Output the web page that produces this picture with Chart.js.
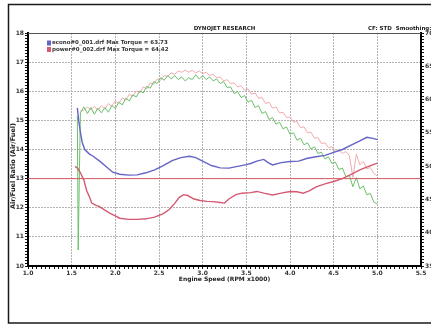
<!DOCTYPE html>
<html>
<head>
<meta charset="utf-8">
<script src="https://cdn.jsdelivr.net/npm/chart.js@4.4.1/dist/chart.umd.min.js"></script>
<style>
  html, body { margin: 0; padding: 0; background: #fff; }
  canvas { display: block; }
</style>
</head>
<body>
<canvas id="dyno" width="431" height="325"></canvas>
<script>
// Tick labels
const rpmLabels = [1.0, 1.5, 2.0, 2.5, 3.0, 3.5, 4.0, 4.5, 5.0, 5.5]
const afrLabels = [10, 11, 12, 13, 14, 15, 16, 17, 18]
const torqueLabels = [35, 40, 45, 50, 55, 60, 65, 70]

// Run names
const runNames = ['econo#0_001.drf Max Torque = 63.73', 'power#0_002.drf Max Torque = 64.42']
const targetAfr = 13

// Air/fuel ratio, run 1 (econo)
const econoAfrRpm = [1.565, 1.58, 1.60, 1.62, 1.65, 1.70, 1.75, 1.82, 1.90, 1.97, 2.05, 2.15, 2.25, 2.35, 2.45, 2.55, 2.65, 2.75, 2.85, 2.92, 3.00, 3.10, 3.20, 3.30, 3.40, 3.50, 3.55, 3.62, 3.70, 3.75, 3.80, 3.90, 4.00, 4.10, 4.20, 4.30, 4.40, 4.50, 4.60, 4.70, 4.80, 4.88, 4.95, 5.00]
const econoAfr = [15.43, 15.0, 14.6, 14.25, 14.0, 13.85, 13.76, 13.6, 13.4, 13.22, 13.15, 13.12, 13.13, 13.2, 13.3, 13.45, 13.62, 13.72, 13.77, 13.72, 13.6, 13.45, 13.37, 13.36, 13.42, 13.48, 13.52, 13.6, 13.66, 13.55, 13.47, 13.55, 13.59, 13.6, 13.7, 13.75, 13.8, 13.9, 14.0, 14.15, 14.3, 14.42, 14.38, 14.34]

// Air/fuel ratio, run 2 (power)
const powerAfrRpm = [1.54, 1.57, 1.60, 1.64, 1.67, 1.70, 1.73, 1.78, 1.82, 1.88, 1.94, 2.00, 2.05, 2.15, 2.25, 2.35, 2.45, 2.55, 2.62, 2.68, 2.73, 2.78, 2.83, 2.90, 2.97, 3.05, 3.12, 3.20, 3.25, 3.30, 3.38, 3.45, 3.55, 3.62, 3.70, 3.80, 3.90, 4.00, 4.08, 4.15, 4.22, 4.30, 4.40, 4.50, 4.60, 4.70, 4.80, 4.90, 5.00]
const powerAfr = [13.42, 13.35, 13.2, 12.95, 12.6, 12.4, 12.16, 12.08, 12.04, 11.92, 11.81, 11.72, 11.64, 11.6, 11.6, 11.62, 11.68, 11.8, 11.95, 12.15, 12.35, 12.45, 12.42, 12.3, 12.25, 12.22, 12.21, 12.18, 12.16, 12.3, 12.45, 12.5, 12.52, 12.56, 12.5, 12.44, 12.5, 12.56, 12.55, 12.5, 12.58, 12.72, 12.82, 12.9, 13.0, 13.15, 13.3, 13.42, 13.53]

// Torque (right axis)
const torqueRpm = [1.60, 1.64, 1.68, 1.72, 1.76, 1.80, 1.84, 1.88, 1.92, 1.96, 2.00, 2.04, 2.08, 2.12, 2.16, 2.20, 2.24, 2.28, 2.32, 2.36, 2.40, 2.44, 2.48, 2.52, 2.56, 2.60, 2.64, 2.68, 2.72, 2.76, 2.80, 2.84, 2.88, 2.92, 2.96, 3.00, 3.04, 3.08, 3.12, 3.16, 3.20, 3.24, 3.28, 3.32, 3.36, 3.40, 3.44, 3.48, 3.52, 3.56, 3.60, 3.64, 3.68, 3.72, 3.76, 3.80, 3.84, 3.88, 3.92, 3.96, 4.00, 4.04, 4.08, 4.12, 4.16, 4.20, 4.24, 4.28, 4.32, 4.36, 4.40, 4.44, 4.48, 4.52, 4.56, 4.60, 4.64, 4.68, 4.72, 4.76, 4.80, 4.84, 4.88, 4.92, 4.96, 5.00]
const econoSpikeRpm = [1.565, 1.575, 1.59]
const econoSpikeTq = [57.5, 37.4, 50.0]
const econoTq = [58.0, 58.9, 57.9, 58.8, 57.8, 58.7, 58.0, 58.8, 58.1, 59.1, 58.7, 59.6, 59.2, 60.2, 59.8, 60.7, 60.4, 61.3, 61.0, 62.0, 61.7, 62.7, 62.4, 63.3, 62.9, 63.6, 63.1, 63.6, 63.0, 63.4, 62.8, 63.3, 63.0, 63.73, 63.1, 63.6, 63.0, 63.4, 62.8, 63.1, 62.4, 62.7, 61.8, 61.9, 60.9, 61.2, 60.3, 60.6, 59.6, 59.9, 58.8, 59.1, 57.9, 58.2, 57.0, 57.3, 56.3, 56.6, 55.6, 55.9, 54.8, 55.0, 53.9, 54.2, 53.2, 53.5, 52.6, 52.9, 51.9, 52.1, 51.1, 51.4, 50.4, 50.6, 49.5, 49.7, 48.4, 48.6, 46.9, 48.3, 46.6, 47.0, 45.7, 45.9, 44.6, 44.3]
const powerTq = [58.3, 58.4, 58.9, 58.5, 59.0, 58.4, 59.1, 58.6, 59.4, 59.0, 59.8, 59.4, 60.3, 59.9, 60.8, 60.5, 61.3, 61.0, 61.9, 61.6, 62.5, 62.3, 63.1, 62.9, 63.6, 63.5, 64.0, 63.8, 64.3, 64.1, 64.42, 64.1, 64.4, 64.0, 64.3, 63.9, 64.1, 63.6, 63.8, 63.3, 63.4, 62.8, 63.0, 62.4, 62.5, 61.9, 62.1, 61.4, 61.6, 60.8, 61.0, 60.2, 60.3, 59.4, 59.6, 58.7, 58.9, 58.0, 58.1, 57.3, 57.4, 56.6, 56.7, 55.8, 55.9, 55.0, 55.1, 54.2, 54.3, 53.4, 53.5, 52.8, 52.9, 52.2, 52.4, 51.9, 52.2, 51.6, 48.3, 51.8, 50.2, 50.7, 49.6, 49.8, 48.9, 48.5]

const pts = (xs, ys) => xs.map((x, i) => ({x: x, y: ys[i]}))
const near = (v, list) => list.some(l => Math.abs(v - l) < 1e-6)

const tickFont = {family: 'DejaVu Sans', size: 6, weight: 'bold'}

// frame, titles, legend and axis names
const decor = {
    id: 'decor',
    beforeDraw(chart) {
        const ctx = chart.ctx
        ctx.save()
        ctx.fillStyle = '#fff'
        ctx.fillRect(0, 0, chart.width, chart.height)
        ctx.restore()
    },
    afterDraw(chart) {
        const {ctx, chartArea} = chart
        ctx.save()
        ctx.strokeStyle = '#1a1a1a'
        ctx.lineWidth = 1.5
        ctx.strokeRect(8.5, 4.5, 440, 318.5)

        ctx.strokeStyle = '#555'
        ctx.lineWidth = 1
        ctx.beginPath()
        ctx.moveTo(chartArea.left, chartArea.top + 0.5)
        ctx.lineTo(chartArea.right, chartArea.top + 0.5)
        ctx.stroke()

        ctx.fillStyle = '#222'
        ctx.textBaseline = 'middle'
        ctx.font = 'bold 5.5px "DejaVu Sans"'
        ctx.textAlign = 'center'
        ctx.fillText('DYNOJET RESEARCH', (chartArea.left + chartArea.right) / 2, 29)
        ctx.textAlign = 'left'
        ctx.fillText('CF: STD  Smoothing:', 368, 29)

        // legend for the two AFR runs
        chart.data.datasets.filter(d => d.legendRow !== undefined).forEach(d => {
            const y = 43 + d.legendRow * 6.5
            ctx.fillStyle = d.borderColor
            ctx.fillRect(47, y - 2.5, 4, 5)
            ctx.fillStyle = '#333'
            ctx.font = 'bold 5.5px "DejaVu Sans"'
            ctx.fillText(d.label, 52, y)
        })

        ctx.fillStyle = '#222'
        ctx.font = 'bold 6px "DejaVu Sans"'
        ctx.textAlign = 'center'
        ctx.fillText('Engine Speed (RPM x1000)', (chartArea.left + chartArea.right) / 2, 279)
        ctx.translate(13, 166)
        ctx.rotate(-Math.PI / 2)
        ctx.font = 'bold 6.5px "DejaVu Sans"'
        ctx.fillText('Air/Fuel Ratio (Air/Fuel)', 0, 0)
        ctx.restore()
    }
}

const gridColor = (isMajor) => (ctx) => isMajor(ctx.tick.value) ? '#b2b2b2' : 'rgba(0,0,0,0)'

new Chart(document.getElementById('dyno'), {
    type: 'line',
    data: {
        datasets: [
            {label: runNames[0], data: pts(econoAfrRpm, econoAfr), yAxisID: 'y', borderColor: '#6464c6', borderWidth: 1.4, legendRow: 0, order: 1},
            {label: runNames[1], data: pts(powerAfrRpm, powerAfr), yAxisID: 'y', borderColor: '#d45a72', borderWidth: 1.4, legendRow: 1, order: 2},
            {label: 'target', data: pts([rpmLabels[0], rpmLabels[rpmLabels.length - 1]], [targetAfr, targetAfr]), yAxisID: 'y', borderColor: '#dc5a68', borderWidth: 1, order: 3},
            {label: 'econo torque', data: pts(econoSpikeRpm.concat(torqueRpm), econoSpikeTq.concat(econoTq)), yAxisID: 'y2', borderColor: '#6cc06c', borderWidth: 1, order: 4},
            {label: 'power torque', data: pts(torqueRpm, powerTq), yAxisID: 'y2', borderColor: '#f2aab0', borderWidth: 1, order: 5}
        ]
    },
    options: {
        responsive: false,
        animation: false,
        layout: {padding: {top: 33, left: 0, right: 0, bottom: 0}},
        elements: {point: {radius: 0}, line: {tension: 0}},
        plugins: {legend: {display: false}, tooltip: {enabled: false}, title: {display: false}},
        scales: {
            x: {
                type: 'linear', min: 1.0, max: 5.5,
                afterFit: s => { s.height = 59 },
                ticks: {stepSize: 0.05, autoSkip: false, maxRotation: 0, padding: 1, color: '#333', font: tickFont,
                        callback: v => near(v, rpmLabels) ? v.toFixed(1) : ''},
                grid: {color: gridColor(v => near(v, rpmLabels)), tickColor: '#111', tickLength: 3, lineWidth: 1},
                border: {color: '#000', width: 2, dash: [2, 1]}
            },
            y: {
                type: 'linear', position: 'left', min: 10, max: 18,
                afterFit: s => { s.width = 28 },
                ticks: {stepSize: 0.1, autoSkip: false, padding: 1, color: '#333', font: tickFont,
                        callback: v => near(v, afrLabels) ? String(Math.round(v)) : ''},
                grid: {color: gridColor(v => near(v, afrLabels)), tickColor: '#111', tickLength: 3, lineWidth: 1},
                border: {color: '#000', width: 2, dash: [2, 1]}
            },
            y2: {
                type: 'linear', position: 'right', min: 35, max: 70,
                afterFit: s => { s.width = 10 },
                ticks: {stepSize: 0.5, autoSkip: false, padding: 1, color: '#333', font: tickFont,
                        callback: v => near(v, torqueLabels) ? String(Math.round(v)) : ''},
                grid: {drawOnChartArea: false, tickColor: '#111', tickLength: 3},
                border: {color: '#000', width: 2}
            }
        }
    },
    plugins: [decor]
})
</script>
</body>
</html>
